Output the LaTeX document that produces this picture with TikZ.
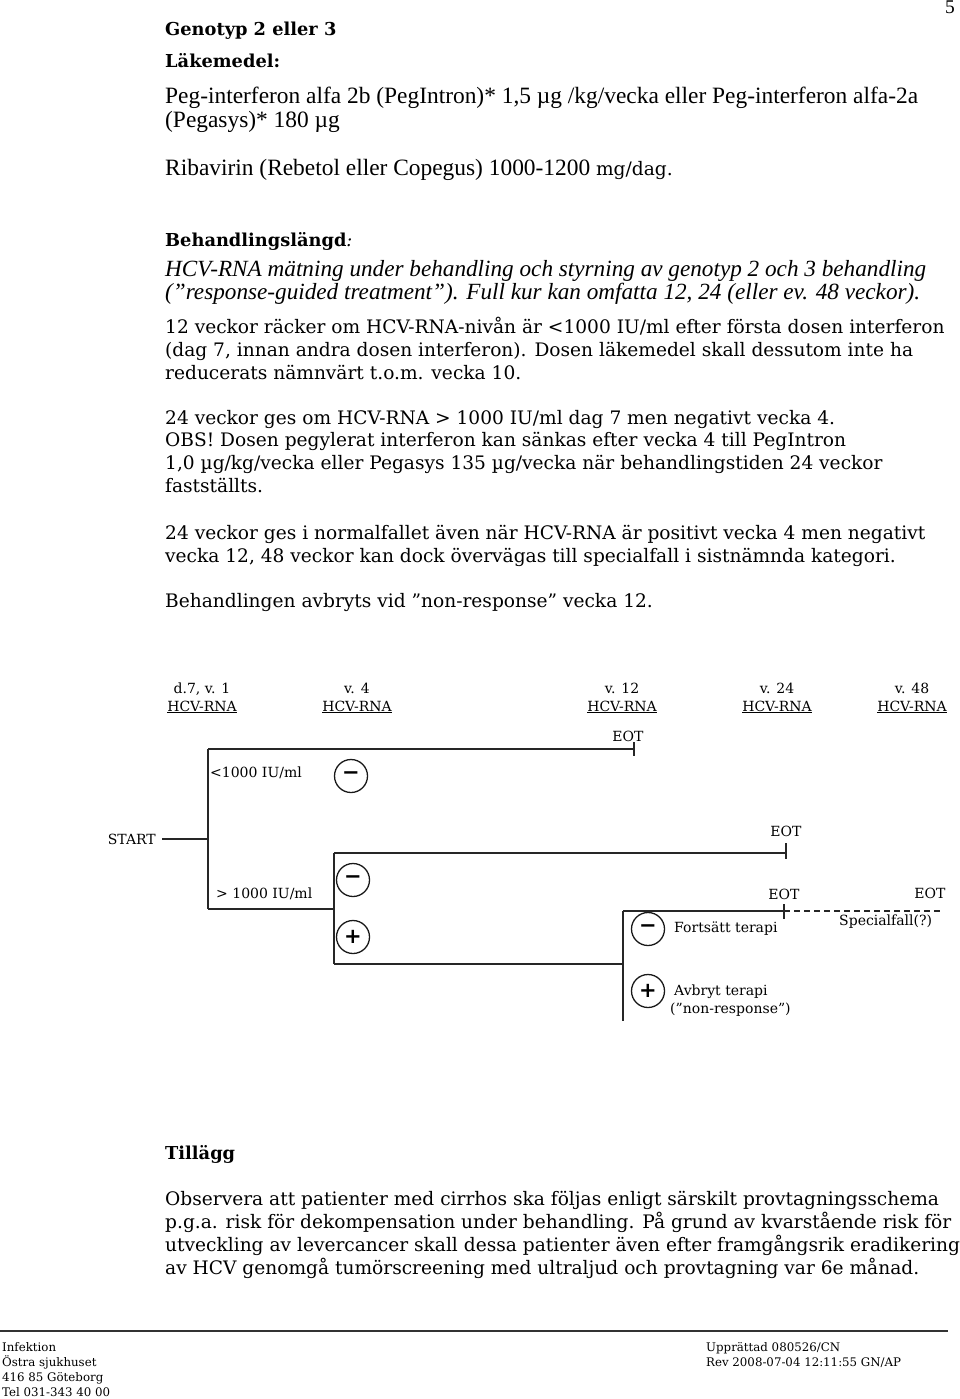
\documentclass[tikz,border=0pt]{standalone}
\usepackage{fontspec}
\setmainfont{DejaVu Serif}
\newfontfamily\tms{Liberation Serif}
\newfontfamily\bkm{DejaVu Serif}
\newfontfamily\sgn{DejaVu Sans}
\begin{document}
\begin{tikzpicture}[x=1pt,y=-1pt,
  tline/.style={anchor=base west, inner sep=0pt, font=\tms\fontsize{23.4}{26}\selectfont},
  iline/.style={anchor=base west, inner sep=0pt, font=\tms\itshape\fontsize{23.2}{26}\selectfont},
  bline/.style={anchor=base west, inner sep=0pt, font=\bkm\fontsize{18.6}{22}\selectfont},
  hline/.style={anchor=base west, inner sep=0pt, font=\bkm\bfseries\fontsize{17.8}{20}\selectfont},
  dlbl/.style={inner sep=0pt, font=\bkm\fontsize{14}{17}\selectfont},
  wk/.style={dlbl, anchor=base},
  flbl/.style={anchor=base west, inner sep=0pt, font=\bkm\fontsize{11.8}{14}\selectfont},
  conn/.style={line width=1.5pt, draw=black!85},
  sign/.style={circle, draw=black!90, line width=1.3pt, minimum size=33pt, inner sep=0pt, font=\sgn\bfseries\fontsize{21}{21}\selectfont}
]
\useasboundingbox (0,0) rectangle (960,1399);
\fill[white] (0,0) rectangle (960,1399);

% page number
\node[anchor=base, inner sep=0pt, font=\tms\fontsize{19.4}{22}\selectfont] (pg) at (950,14) {5};

% top text
\node[hline] (h1) at (165,36) {Genotyp 2 eller 3};
\node[hline] (h2) at (165,68) {Läkemedel:};
\node[tline] (t1) at (165,104) {Peg-interferon alfa 2b (PegIntron)* 1,5 µg /kg/vecka eller Peg-interferon alfa-2a};
\node[tline] (t2) at (165,128) {(Pegasys)* 180 µg};
\node[tline] (t3) at (165,176) {Ribavirin (Rebetol eller Copegus) 1000-1200 {\bkm\fontsize{18.6}{22}\selectfont mg/dag.}};
\node[hline] (h3) at (165,246) {Behandlingslängd{\mdseries\itshape :}};
\node[iline] (i1) at (165,276) {HCV-RNA mätning under behandling och styrning av genotyp 2 och 3 behandling};
\node[iline] (i2) at (165,299) {(”response-guided treatment”). Full kur kan omfatta 12, 24 (eller ev. 48 veckor).};
\node[bline] (b1) at (165,333) {12 veckor räcker om HCV-RNA-nivån är <1000 IU/ml efter första dosen interferon};
\node[bline] (b2) at (165,356) {(dag 7, innan andra dosen interferon). Dosen läkemedel skall dessutom inte ha};
\node[bline] (b3) at (165,379) {reducerats nämnvärt t.o.m. vecka 10.};
\node[bline] (b4) at (165,424) {24 veckor ges om HCV-RNA > 1000 IU/ml dag 7 men negativt vecka 4.};
\node[bline] (b5) at (165,446) {OBS! Dosen pegylerat interferon kan sänkas efter vecka 4 till PegIntron};
\node[bline] (b6) at (165,469) {1,0 µg/kg/vecka eller Pegasys 135 µg/vecka när behandlingstiden 24 veckor};
\node[bline] (b7) at (165,492) {fastställts.};
\node[bline] (b8) at (165,539) {24 veckor ges i normalfallet även när HCV-RNA är positivt vecka 4 men negativt};
\node[bline] (b9) at (165,562) {vecka 12, 48 veckor kan dock övervägas till specialfall i sistnämnda kategori.};
\node[bline] (b10) at (165,607) {Behandlingen avbryts vid ”non-response” vecka 12.};

% week headers
\node[wk] (w1) at (202,693) {d.7, v. 1};
\node[wk] (r1) at (202,711) {\underline{HCV-RNA}};
\node[wk] (w2) at (357,693) {v. 4};
\node[wk] (r2) at (357,711) {\underline{HCV-RNA}};
\node[wk] (w3) at (622,693) {v. 12};
\node[wk] (r3) at (622,711) {\underline{HCV-RNA}};
\node[wk] (w4) at (777,693) {v. 24};
\node[wk] (r4) at (777,711) {\underline{HCV-RNA}};
\node[wk] (w5) at (912,693) {v. 48};
\node[wk] (r5) at (912,711) {\underline{HCV-RNA}};

% diagram coordinates
\coordinate (s0) at (162,839);
\coordinate (s1) at (208,839);
\coordinate (a0) at (208,749);
\coordinate (a1) at (634,749);
\coordinate (a1t) at (634,742);
\coordinate (a1b) at (634,756);
\coordinate (c0) at (208,909);
\coordinate (c1) at (334,909);
\coordinate (d0) at (334,853);
\coordinate (d1) at (786,853);
\coordinate (d1t) at (786,843);
\coordinate (d1b) at (786,859);
\coordinate (e0) at (334,964);
\coordinate (e1) at (623,964);
\coordinate (f0) at (623,911);
\coordinate (f1) at (784,911);
\coordinate (f1t) at (784,904);
\coordinate (f1b) at (784,919);
\coordinate (g1) at (943,911);
\coordinate (h0) at (623,1021);

\node[dlbl, anchor=east] (start) at (156,839) {START};
\draw[conn] (s0) -- (s1);
\draw[conn] (a0) -- (c0);
\draw[conn] (a0) -- (a1);
\draw[conn] (a1t) -- (a1b);
\draw[conn] (c0) -- (c1);
\draw[conn] (d0) -- (e0);
\draw[conn] (d0) -- (d1);
\draw[conn] (d1t) -- (d1b);
\draw[conn] (e0) -- (e1);
\draw[conn] (f0) -- (h0);
\draw[conn] (f0) -- (f1);
\draw[conn] (f1t) -- (f1b);
\draw[conn, dashed, dash pattern=on 6pt off 4pt] (f1) -- (g1);

\node[dlbl, anchor=base] (eot1) at (628,741) {EOT};
\node[dlbl, anchor=base] (eot2) at (786,836) {EOT};
\node[dlbl, anchor=base] (eot3) at (784,899) {EOT};
\node[dlbl, anchor=base] (eot4) at (930,898) {EOT};
\node[dlbl, anchor=base west] (spec) at (839,925) {Specialfall(?)};

\node[dlbl, anchor=base west] (lo) at (210,777) {<1000 IU/ml};
\node[dlbl, anchor=base west] (hi) at (216,898) {> 1000 IU/ml};

\node[sign] (m1) at (351,776) {−};
\node[sign] (m2) at (353,880) {−};
\node[sign] (p2) at (353,937) {+};
\node[sign] (m3) at (648,929) {−};
\node[sign] (p3) at (648,991) {+};

\node[dlbl, anchor=base west] (fort) at (674,932) {Fortsätt terapi};
\node[dlbl, anchor=base west] (avb) at (674,995) {Avbryt terapi};
\node[dlbl, anchor=base west] (nonr) at (670,1013) {(”non-response”)};

% Tillägg
\node[hline] (h4) at (165,1159) {Tillägg};
\node[bline] (c1t) at (165,1205) {Observera att patienter med cirrhos ska följas enligt särskilt provtagningsschema};
\node[bline] (c2t) at (165,1228) {p.g.a. risk för dekompensation under behandling. På grund av kvarstående risk för};
\node[bline] (c3t) at (165,1251) {utveckling av levercancer skall dessa patienter även efter framgångsrik eradikering};
\node[bline] (c4t) at (165,1274) {av HCV genomgå tumörscreening med ultraljud och provtagning var 6e månad.};

% footer
\coordinate (fl0) at (0,1331);
\coordinate (fl1) at (948,1331);
\draw[line width=1.8pt, draw=black!80] (fl0) -- (fl1);
\node[flbl] (ft1) at (2,1351) {Infektion};
\node[flbl] (ft2) at (2,1366) {Östra sjukhuset};
\node[flbl] (ft3) at (2,1381) {416 85 Göteborg};
\node[flbl] (ft4) at (2,1396) {Tel 031-343 40 00};
\node[flbl] (ft5) at (706,1351) {Upprättad 080526/CN};
\node[flbl] (ft6) at (706,1366) {Rev 2008-07-04 12:11:55 GN/AP};
\end{tikzpicture}
\end{document}
